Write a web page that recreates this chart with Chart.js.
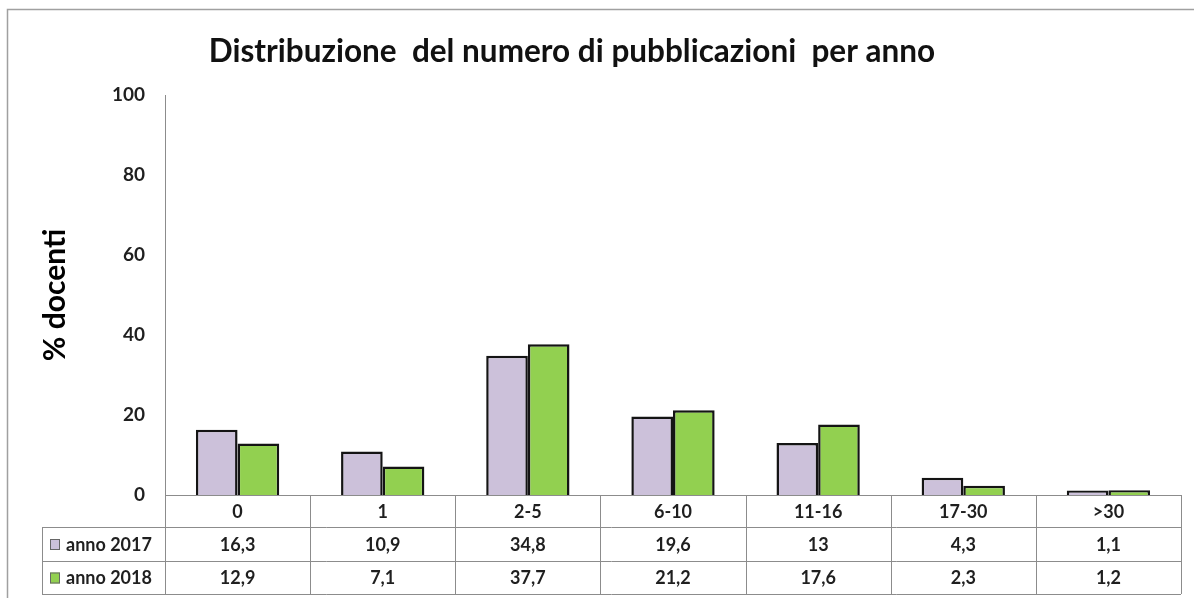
<!DOCTYPE html>
<html>
<head>
<meta charset="utf-8">
<script src="https://cdn.jsdelivr.net/npm/chart.js@4"></script>
<style>
  html,body{margin:0;padding:0;background:#fff;}
  #wrap{width:1194px;height:598px;position:relative;}
</style>
</head>
<body>
<div id="wrap"><canvas id="chart"></canvas></div>
<script>
const CATEGORIES = ['0','1','2-5','6-10','11-16','17-30','>30'];
const SERIES_NAMES = ['anno 2017','anno 2018'];
const VALUES_2017 = [16.3, 10.9, 34.8, 19.6, 13, 4.3, 1.1];
const VALUES_2018 = [12.9, 7.1, 37.7, 21.2, 17.6, 2.3, 1.2];
const Y_TICKS = [0, 20, 40, 60, 80, 100];
const TITLE = 'Distribuzione  del numero di pubblicazioni  per anno';
const colors = ['#ccc1da', '#92d050'];

const FONT = 'Lato, "Open Sans", sans-serif';
const lineGray = '#8c8c8c';
const textDark = '#1f1f1f';

const fmt = v => String(v).replace('.', ',');

// frame round the whole picture + the title
const framePlugin = {
  id: 'frame',
  beforeDraw(chart) {
    const ctx = chart.ctx;
    ctx.save();
    ctx.fillStyle = '#fff';
    ctx.fillRect(0, 0, chart.width, chart.height);
    ctx.strokeStyle = '#a0a0a0';
    ctx.lineWidth = 1.5;
    ctx.beginPath();
    ctx.moveTo(7.5, chart.height);
    ctx.lineTo(7.5, 9.5);
    ctx.lineTo(chart.width, 9.5);
    ctx.stroke();
    ctx.fillStyle = '#111';
    ctx.font = 'bold 31.5px ' + FONT;
    ctx.textAlign = 'center';
    ctx.textBaseline = 'middle';
    ctx.fillText(TITLE, 572, 52);
    ctx.restore();
  }
};

// data table under the x axis, like the Excel one
const tablePlugin = {
  id: 'dataTable',
  afterDraw(chart) {
    const ctx = chart.ctx;
    const area = chart.chartArea;
    const n = CATEGORIES.length;
    const w = (area.right - area.left) / n;
    const top = area.bottom;
    const r1 = top + 32, r2 = r1 + 34, r3 = r2 + 33;
    const tableLeft = 42;

    ctx.save();
    ctx.strokeStyle = lineGray;
    ctx.lineWidth = 1;
    ctx.beginPath();
    ctx.moveTo(area.left, top + 0.5); ctx.lineTo(area.right, top + 0.5);
    [r1, r2, r3].forEach(y => { ctx.moveTo(tableLeft, y + 0.5); ctx.lineTo(area.right, y + 0.5); });
    ctx.moveTo(tableLeft + 0.5, r1); ctx.lineTo(tableLeft + 0.5, r3);
    for (let i = 0; i <= n; i++) {
      const x = Math.round(area.left + i * w) + 0.5;
      ctx.moveTo(x, top); ctx.lineTo(x, r3);
    }
    ctx.stroke();

    const cellFont = 'bold 18px ' + FONT;
    ctx.fillStyle = textDark;
    ctx.textAlign = 'center';
    ctx.textBaseline = 'middle';
    ctx.font = cellFont;
    CATEGORIES.forEach((c, i) => {
      ctx.fillText(c, area.left + (i + 0.5) * w, (top + r1) / 2 + 1);
    });
    const rows = [[r1, r2], [r2, r3]];
    chart.data.datasets.forEach((ds, k) => {
      const [ya, yb] = rows[k];
      const cy = (ya + yb) / 2 + 1;
      ds.data.forEach((v, i) => {
        ctx.fillText(fmt(v), area.left + (i + 0.5) * w, cy);
      });
      // legend key
      ctx.fillStyle = ds.backgroundColor;
      ctx.fillRect(50, cy - 6, 10, 11);
      ctx.strokeStyle = '#666';
      ctx.strokeRect(50.5, cy - 5.5, 9, 10);
      ctx.fillStyle = textDark;
      ctx.textAlign = 'left';
      ctx.font = 'bold 18px ' + FONT;
      ctx.fillText(ds.label, 66, cy);
      ctx.textAlign = 'center';
      ctx.font = cellFont;
    });
    ctx.restore();
  }
};

const datasets = [VALUES_2017, VALUES_2018].map((vals, i) => ({
  label: SERIES_NAMES[i],
  data: vals,
  backgroundColor: colors[i],
  borderColor: '#141414',
  borderWidth: 2.5,
  barPercentage: 1,
  categoryPercentage: 0.574
}));

new Chart(document.getElementById('chart'), {
  type: 'bar',
  data: { labels: CATEGORIES, datasets },
  options: {
    responsive: true,
    maintainAspectRatio: false,
    animation: false,
    layout: { padding: { left: 0, right: 13, bottom: 103, top: 95 } },
    scales: {
      x: { display: false },
      y: {
        min: 0, max: 100,
        afterFit: s => { s.width = 165; },
        afterBuildTicks: s => { s.ticks = Y_TICKS.map(v => ({ value: v })); },
        grid: { display: false, drawTicks: false },
        border: { display: true, color: lineGray, width: 1 },
        ticks: { padding: 20, color: textDark, font: { family: FONT, size: 19, weight: 'bold' } },
        title: {
          display: true, text: '% docenti', color: '#000',
          font: { family: FONT, size: 30, weight: 'bold' },
          padding: { top: 37 }
        }
      }
    },
    plugins: {
      legend: { display: false },
      tooltip: { enabled: false }
    }
  },
  plugins: [framePlugin, tablePlugin]
});
</script>
</body>
</html>
